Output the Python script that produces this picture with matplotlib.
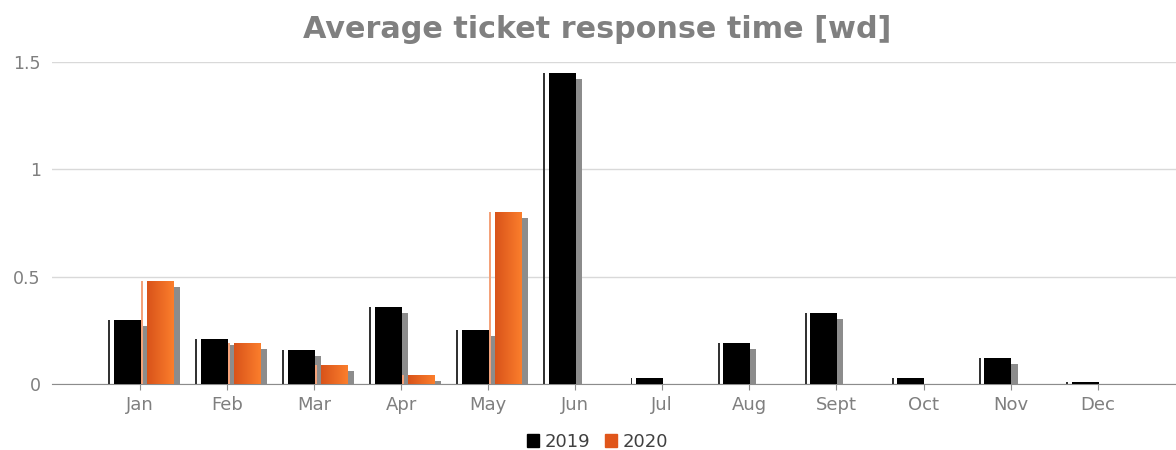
import numpy as np
import matplotlib
matplotlib.use('Agg')
import matplotlib.pyplot as plt
from matplotlib.patches import Patch

plt.rcParams['font.family'] = ['DejaVu Sans']

months = ['Jan', 'Feb', 'Mar', 'Apr', 'May', 'Jun', 'Jul', 'Aug', 'Sept', 'Oct', 'Nov', 'Dec']
vals_2019 = [0.30, 0.21, 0.16, 0.36, 0.25, 1.45, 0.03, 0.19, 0.33, 0.03, 0.12, 0.01]
vals_2020 = [0.48, 0.19, 0.09, 0.04, 0.80, 0, 0, 0, 0, 0, 0, 0]
series = ['2019', '2020']

fig = plt.figure(figsize=(11.76, 4.5), dpi=100)
ax = fig.add_axes([0.0442, 0.1467, 0.9558, 0.7155])

x = np.arange(len(months))
width = 0.31
dx, dy = 0.07, 0.028

orange_cmap = matplotlib.colors.LinearSegmentedColormap.from_list('o', ['#d9531a', '#fb7e2c'])


def draw_series(vals, left_off, body_color, stripe_color, gradient=False):
    vals = np.asarray(vals)
    lefts = x + left_off
    # shadow
    sh = np.clip(vals - dy, 0, None)
    ax.bar(lefts + dx, np.where(vals > 0, sh, 0), width=width, align='edge',
           color='#8c8c8c', zorder=2)
    # thin stripe at left
    ax.bar(lefts - 0.065, vals, width=0.022, align='edge', color=stripe_color, zorder=3)
    bars = ax.bar(lefts, vals, width=width, align='edge', color=body_color, zorder=4)
    if gradient:
        grad = np.linspace(0, 1, 64).reshape(1, -1)
        for b, v in zip(bars, vals):
            if v <= 0:
                continue
            im = ax.imshow(grad, cmap=orange_cmap, aspect='auto', zorder=5,
                           extent=[b.get_x(), b.get_x() + b.get_width(), 0, v])
            im.set_clip_path(b)


draw_series(vals_2019, -0.30, '#000000', '#333333')
draw_series(vals_2020, 0.08, '#e8611f', '#f4a27a', gradient=True)

ax.set_xlim(-1.01, 11.9)
ax.set_ylim(0, 1.5)
ax.set_yticks([0, 0.5, 1, 1.5])
ax.set_yticklabels(['0', '0.5', '1', '1.5'])
ax.set_xticks(x)
ax.set_xticklabels(months)
ax.grid(axis='y', color='#d9d9d9', linewidth=1, zorder=0)
ax.set_axisbelow(True)
for s in ['top', 'right', 'left']:
    ax.spines[s].set_visible(False)
ax.spines['bottom'].set_color('#8c8c8c')
ax.tick_params(axis='y', length=0, colors='#7f7f7f', labelsize=12.5, pad=8)
ax.tick_params(axis='x', length=4, color='#8c8c8c', colors='#7f7f7f', labelsize=13, pad=5)

fig.text(0.508, 0.935, 'Average ticket response time [wd]', ha='center', va='center',
         fontsize=21.8, fontweight='bold', color='#808080')

handles = [Patch(color='#000000'), Patch(color='#e0561b')]
fig.legend(handles, series, loc='center', bbox_to_anchor=(0.508, 0.018), ncol=2,
           frameon=False, fontsize=13, handlelength=0.7, handleheight=0.7,
           handletextpad=0.3, columnspacing=0.8, labelcolor='#404040')

fig.savefig('out.png', dpi=100)
